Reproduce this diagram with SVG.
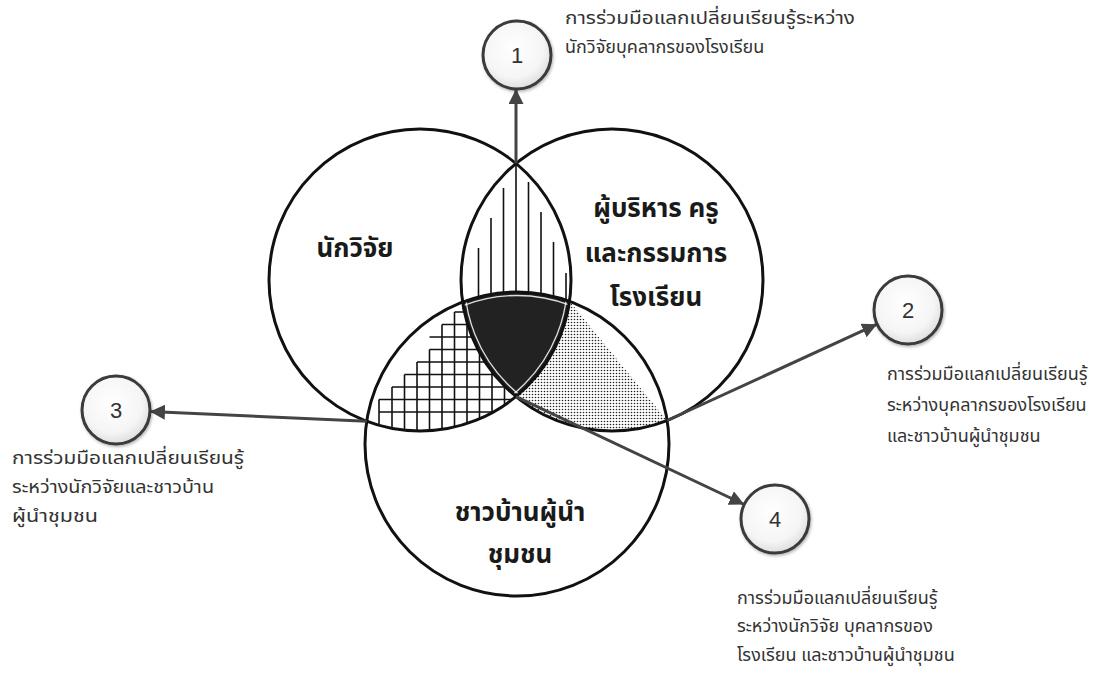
<svg xmlns="http://www.w3.org/2000/svg" width="1112" height="673" viewBox="0 0 1112 673">
<style>
.ring{fill:none;stroke:#111;stroke-width:3}
.num{fill:url(#g);stroke:#3a3a3a;stroke-width:3;filter:url(#sh)}
.numt{font-family:"Liberation Sans",Arial,sans-serif;font-size:22px;fill:#333;text-anchor:middle}
.lab{font-family:Tahoma,"Noto Sans Thai","Noto Sans","DejaVu Sans",sans-serif;font-size:18px;fill:#333}
.big{font-family:Tahoma,"Noto Sans Thai","Noto Sans","DejaVu Sans",sans-serif;font-size:26px;font-weight:bold;fill:#1a1a1a;text-anchor:middle}
.con{stroke:#444;stroke-width:3;fill:none;marker-end:url(#ah)}
.h{stroke:#111;stroke-width:1.6;fill:none}
.hl{fill:none;stroke:#fff;stroke-width:1.3;opacity:0.85}
</style>
<defs>
<radialGradient id="g" cx="0.45" cy="0.4" r="0.62"><stop offset="0" stop-color="#ffffff"/><stop offset="0.7" stop-color="#f5f5f5"/><stop offset="1" stop-color="#dcdcdc"/></radialGradient>
<filter id="sh" x="-30%" y="-30%" width="160%" height="160%"><feDropShadow dx="1" dy="1.5" stdDeviation="1.5" flood-color="#000" flood-opacity="0.3"/></filter>
<marker id="ah" viewBox="0 0 10 10" refX="10" refY="5" markerWidth="5" markerHeight="5" orient="auto" markerUnits="strokeWidth"><path d="M0,0 L10,5 L0,10 z" fill="#444"/></marker>
<pattern id="dots" width="3" height="3" patternUnits="userSpaceOnUse"><circle cx="1.5" cy="1.5" r="0.8" fill="#222"/></pattern>
<clipPath id="cA"><circle cx="420" cy="280" r="151"/></clipPath>
<clipPath id="cB"><circle cx="612" cy="280" r="151"/></clipPath>
<clipPath id="cC"><circle cx="517" cy="444" r="152"/></clipPath>
<clipPath id="cDot"><polygon points="569.5,280 569.5,301.3 667.1,420.5 667,470 470,470 470,280"/></clipPath>
</defs>

<g id="venn">
  <g clip-path="url(#cA)"><g clip-path="url(#cB)">
    <path class="h" d="M478.5,248V330M491,218V330M503.5,188V330M516,160V330M528.5,182V330M541,212V330M553.5,242V330M566,273V330"/>
  </g></g>
  <g clip-path="url(#cA)"><g clip-path="url(#cC)">
    <path class="h" d="M379,399.5V440M392,387V440M404.5,374.5V440M417,362V440M429.5,349.5V440M442,324.5V440M454.5,312V440M467,290V440M479.5,290V440M492,290V440M504.5,290V440
    M454.5,312H540M442,324.5H540M429.5,337H540M429.5,349.5H540M417,362H540M404.5,374.5H540M392,387H540M379,399.5H540M379,412H540"/>
  </g></g>
  <g clip-path="url(#cB)"><g clip-path="url(#cC)">
    <rect x="460" y="280" width="220" height="200" fill="url(#dots)" clip-path="url(#cDot)"/>
  </g></g>
  <g clip-path="url(#cA)"><g clip-path="url(#cB)"><g clip-path="url(#cC)">
    <rect x="440" y="280" width="160" height="130" fill="#222"/>
    <circle class="hl" cx="420" cy="280" r="147.5"/>
    <circle class="hl" cx="612" cy="280" r="147.5"/>
    <circle class="hl" cx="517" cy="444" r="148.5"/>
  </g></g></g>
  <circle class="ring" cx="420" cy="280" r="151"/>
  <circle class="ring" cx="612" cy="280" r="151"/>
  <circle class="ring" cx="517" cy="444" r="152"/>
</g>

<g id="set-researcher"><text class="big" x="355" y="257">นักวิจัย</text></g>
<g id="set-school">
  <text class="big" x="656" y="217">ผู้บริหาร ครู</text>
  <text class="big" x="656" y="262">และกรรมการ</text>
  <text class="big" x="656" y="306">โรงเรียน</text>
</g>
<g id="set-community">
  <text class="big" x="520" y="521">ชาวบ้านผู้นำ</text>
  <text class="big" x="520" y="563">ชุมชน</text>
</g>

<g id="connectors">
  <path class="con" d="M516,163.4V89"/>
  <path class="con" d="M667.1,420.5L877.1,324.2"/>
  <path class="con" d="M366.7,421.3L150,411.5"/>
  <path class="con" d="M516,396.6L744.3,504.5"/>
</g>

<g id="n1"><circle class="num" cx="517" cy="55" r="34"/><text class="numt" x="517" y="63">1</text>
  <text class="lab" x="565" y="24" textLength="290" lengthAdjust="spacingAndGlyphs">การร่วมมือแลกเปลี่ยนเรียนรู้ระหว่าง</text>
  <text class="lab" x="565" y="53">นักวิจัยบุคลากรของโรงเรียน</text></g>
<g id="n2"><circle class="num" cx="908" cy="310" r="34"/><text class="numt" x="908" y="318">2</text>
  <text class="lab" x="887" y="380">การร่วมมือแลกเปลี่ยนเรียนรู้</text>
  <text class="lab" x="887" y="411">ระหว่างบุคลากรของโรงเรียน</text>
  <text class="lab" x="887" y="442">และชาวบ้านผู้นำชุมชน</text></g>
<g id="n3"><circle class="num" cx="116" cy="410" r="34"/><text class="numt" x="116" y="418">3</text>
  <text class="lab" x="12" y="464" textLength="232" lengthAdjust="spacingAndGlyphs">การร่วมมือแลกเปลี่ยนเรียนรู้</text>
  <text class="lab" x="12" y="493" textLength="202" lengthAdjust="spacingAndGlyphs">ระหว่างนักวิจัยและชาวบ้าน</text>
  <text class="lab" x="12" y="522" textLength="86" lengthAdjust="spacingAndGlyphs">ผู้นำชุมชน</text></g>
<g id="n4"><circle class="num" cx="775" cy="519" r="34"/><text class="numt" x="775" y="527">4</text>
  <text class="lab" x="737" y="604">การร่วมมือแลกเปลี่ยนเรียนรู้</text>
  <text class="lab" x="737" y="632">ระหว่างนักวิจัย บุคลากรของ</text>
  <text class="lab" x="737" y="661">โรงเรียน และชาวบ้านผู้นำชุมชน</text></g>
</svg>
